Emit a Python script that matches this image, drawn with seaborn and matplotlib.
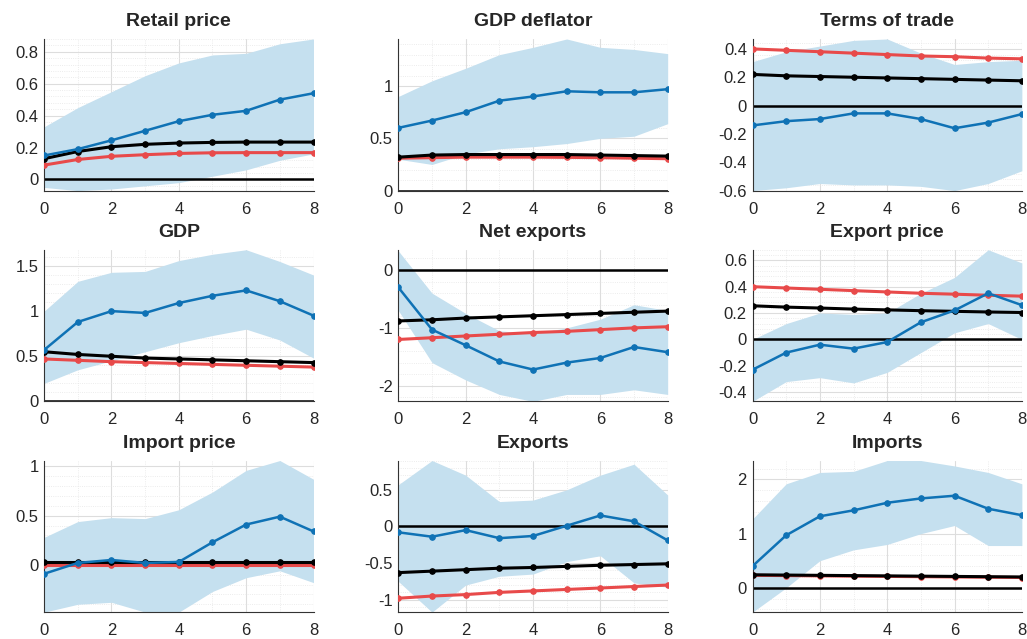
import numpy as np
import matplotlib
matplotlib.use('Agg')
import matplotlib.pyplot as plt
import seaborn as sns
import pandas as pd
from matplotlib.ticker import AutoMinorLocator

horizon = np.arange(9)

titles = ['Retail price', 'GDP deflator', 'Terms of trade',
          'GDP', 'Net exports', 'Export price',
          'Import price', 'Exports', 'Imports']

blue = [
    [0.15, 0.19, 0.245, 0.305, 0.365, 0.405, 0.43, 0.50, 0.54],
    [0.60, 0.67, 0.75, 0.86, 0.90, 0.95, 0.94, 0.94, 0.97],
    [-0.14, -0.11, -0.095, -0.055, -0.055, -0.095, -0.16, -0.12, -0.06],
    [0.57, 0.88, 1.00, 0.98, 1.09, 1.17, 1.23, 1.11, 0.95],
    [-0.30, -1.03, -1.30, -1.58, -1.72, -1.60, -1.52, -1.33, -1.42],
    [-0.23, -0.10, -0.04, -0.07, -0.02, 0.13, 0.22, 0.35, 0.26],
    [-0.09, 0.02, 0.05, 0.02, 0.03, 0.23, 0.41, 0.49, 0.34],
    [-0.08, -0.14, -0.05, -0.16, -0.13, 0.01, 0.15, 0.07, -0.19],
    [0.40, 0.97, 1.32, 1.43, 1.57, 1.65, 1.70, 1.46, 1.34],
]
lower = [
    [-0.05, -0.07, -0.06, -0.04, -0.02, 0.02, 0.06, 0.12, 0.16],
    [0.30, 0.25, 0.35, 0.40, 0.42, 0.45, 0.50, 0.52, 0.64],
    [-0.60, -0.58, -0.55, -0.56, -0.56, -0.57, -0.60, -0.55, -0.46],
    [0.20, 0.35, 0.45, 0.55, 0.65, 0.73, 0.80, 0.68, 0.48],
    [-0.70, -1.60, -1.90, -2.15, -2.27, -2.15, -2.15, -2.07, -2.15],
    [-0.47, -0.32, -0.29, -0.33, -0.25, -0.10, 0.05, 0.12, 0.00],
    [-0.48, -0.40, -0.38, -0.48, -0.48, -0.27, -0.13, -0.06, -0.18],
    [-0.75, -1.17, -0.80, -0.68, -0.65, -0.48, -0.40, -0.77, -0.83],
    [-0.45, 0.00, 0.50, 0.70, 0.80, 1.00, 1.15, 0.78, 0.78],
]
upper = [
    [0.33, 0.45, 0.55, 0.65, 0.73, 0.78, 0.79, 0.85, 0.88],
    [0.90, 1.05, 1.17, 1.30, 1.37, 1.45, 1.37, 1.35, 1.31],
    [0.31, 0.38, 0.42, 0.46, 0.47, 0.37, 0.29, 0.31, 0.32],
    [1.00, 1.33, 1.43, 1.44, 1.56, 1.63, 1.68, 1.55, 1.40],
    [0.33, -0.40, -0.75, -1.05, -1.10, -1.00, -0.85, -0.60, -0.70],
    [0.00, 0.12, 0.20, 0.19, 0.20, 0.35, 0.47, 0.68, 0.58],
    [0.28, 0.44, 0.48, 0.47, 0.56, 0.74, 0.96, 1.06, 0.87],
    [0.57, 0.90, 0.70, 0.34, 0.36, 0.50, 0.70, 0.85, 0.43],
    [1.27, 1.92, 2.13, 2.15, 2.35, 2.35, 2.25, 2.13, 1.92],
]
black = [
    [0.13, 0.175, 0.205, 0.22, 0.228, 0.232, 0.234, 0.234, 0.234],
    [0.32, 0.34, 0.345, 0.345, 0.345, 0.345, 0.34, 0.335, 0.33],
    [0.22, 0.21, 0.205, 0.20, 0.195, 0.19, 0.185, 0.18, 0.175],
    [0.55, 0.52, 0.50, 0.48, 0.47, 0.46, 0.45, 0.44, 0.43],
    [-0.88, -0.86, -0.83, -0.81, -0.79, -0.77, -0.75, -0.73, -0.71],
    [0.255, 0.245, 0.238, 0.23, 0.224, 0.218, 0.213, 0.208, 0.204],
    [0.025, 0.025, 0.025, 0.025, 0.025, 0.025, 0.025, 0.025, 0.025],
    [-0.63, -0.61, -0.59, -0.57, -0.56, -0.545, -0.53, -0.52, -0.51],
    [0.24, 0.235, 0.23, 0.225, 0.22, 0.215, 0.21, 0.205, 0.20],
]
red = [
    [0.09, 0.125, 0.145, 0.155, 0.163, 0.167, 0.168, 0.168, 0.168],
    [0.31, 0.315, 0.32, 0.32, 0.32, 0.318, 0.315, 0.31, 0.305],
    [0.40, 0.39, 0.38, 0.37, 0.36, 0.35, 0.345, 0.335, 0.33],
    [0.47, 0.455, 0.44, 0.43, 0.42, 0.41, 0.40, 0.39, 0.38],
    [-1.20, -1.17, -1.14, -1.11, -1.08, -1.06, -1.03, -1.00, -0.98],
    [0.40, 0.39, 0.38, 0.37, 0.36, 0.35, 0.343, 0.335, 0.328],
    [-0.005, -0.005, -0.005, -0.005, -0.005, -0.005, -0.005, -0.005, -0.005],
    [-0.98, -0.95, -0.93, -0.90, -0.88, -0.86, -0.84, -0.82, -0.80],
    [0.23, 0.225, 0.22, 0.215, 0.21, 0.205, 0.20, 0.195, 0.19],
]

ylims = [(-0.07, 0.88), (0, 1.45), (-0.6, 0.47), (0, 1.68), (-2.27, 0.35),
         (-0.47, 0.68), (-0.48, 1.06), (-1.17, 0.9), (-0.45, 2.35)]
yticks = [[0, 0.2, 0.4, 0.6, 0.8], [0, 0.5, 1], [-0.6, -0.4, -0.2, 0, 0.2, 0.4],
          [0, 0.5, 1, 1.5], [-2, -1, 0], [-0.4, -0.2, 0, 0.2, 0.4, 0.6],
          [0, 0.5, 1], [-1, -0.5, 0, 0.5], [0, 1, 2]]

sns.set_style('white')
plt.rcParams['font.family'] = ['Liberation Sans', 'DejaVu Sans']

fig, axes = plt.subplots(3, 3, figsize=(10.27, 6.39), dpi=100)
for i, ax in enumerate(axes.flat):
    df = pd.DataFrame({'h': horizon, 'blue': blue[i], 'black': black[i], 'red': red[i]})
    ax.fill_between(horizon, lower[i], upper[i], color='#c5e0ef', lw=0, zorder=1)
    ax.axhline(0, color='black', lw=1.8, zorder=2)
    sns.lineplot(data=df, x='h', y='blue', ax=ax, color='#0f72b5', lw=1.8, marker='o', ms=4, mec='#0f72b5', zorder=4)
    sns.lineplot(data=df, x='h', y='red', ax=ax, color='#e84a4a', lw=2.2, marker='o', ms=4, mec='#e84a4a', zorder=3)
    sns.lineplot(data=df, x='h', y='black', ax=ax, color='black', lw=2.2, marker='o', ms=4, mec='black', zorder=3)
    ax.set_xlim(0, 8)
    ax.set_ylim(*ylims[i])
    ax.set_xticks([0, 2, 4, 6, 8])
    ax.set_yticks(yticks[i])
    ax.set_yticklabels([f'{t:g}' for t in yticks[i]])
    ax.xaxis.set_minor_locator(AutoMinorLocator(2))
    ax.yaxis.set_minor_locator(AutoMinorLocator(5))
    ax.grid(True, which='major', color='#dddddd', lw=0.8)
    ax.grid(True, which='minor', color='#e6e6e6', lw=0.6, ls=':')
    ax.set_axisbelow(True)
    ax.set_xlabel('')
    ax.set_ylabel('')
    ax.set_title(titles[i], fontsize=14, fontweight='bold', pad=9)
    ax.tick_params(labelsize=12, length=0)
    ax.tick_params(axis='x', pad=8)
    ax.tick_params(axis='y', pad=4)
    for s in ['top', 'right']:
        ax.spines[s].set_visible(False)
    for s in ['left', 'bottom']:
        ax.spines[s].set_color('#333333')
        ax.spines[s].set_linewidth(0.8)

plt.subplots_adjust(left=0.043, right=0.995, top=0.939, bottom=0.042, wspace=0.315, hspace=0.39)
plt.savefig('out.png', dpi=100)
